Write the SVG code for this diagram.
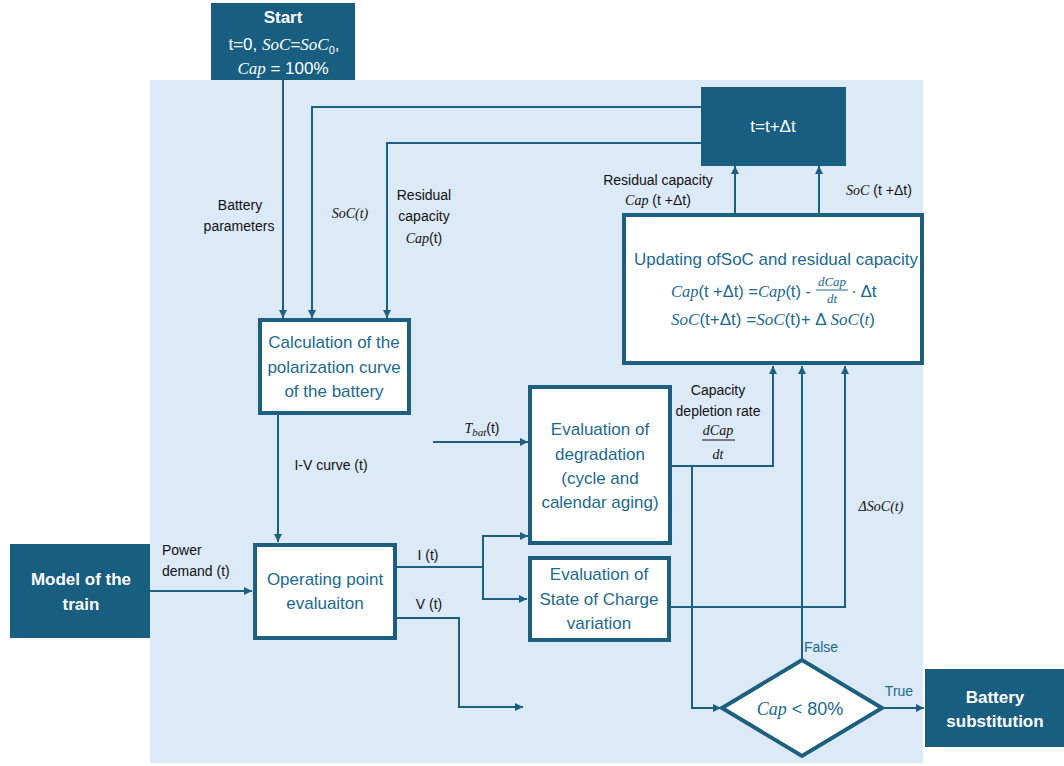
<svg xmlns="http://www.w3.org/2000/svg" width="1064" height="766" viewBox="0 0 1064 766">
<defs>
<marker id="ah" markerWidth="10" markerHeight="10" refX="9" refY="5" orient="auto" markerUnits="userSpaceOnUse">
<path d="M1,1 L9,5 L1,9 Z" fill="#1d5f80"/>
</marker>
<style>
.dark{fill:#175e80;}
.wbox{fill:#ffffff;stroke:#1d5f80;stroke-width:4;}
.wt{font-family:"Liberation Sans",Arial,sans-serif;font-weight:bold;fill:#ffffff;font-size:17px;text-anchor:middle;}
.wn{font-family:"Liberation Sans",Arial,sans-serif;fill:#ffffff;font-size:17px;text-anchor:middle;}
.bt{font-family:"Liberation Sans",Arial,sans-serif;fill:#1b6a8f;font-size:17px;text-anchor:middle;}
.lb{font-family:"Liberation Sans",Arial,sans-serif;fill:#111111;font-size:14px;text-anchor:middle;}
.st{text-anchor:start;}
.m{font-family:"Liberation Serif","Times New Roman",serif;font-style:italic;}
.sm{font-size:11px;}
.fr{font-size:13px;}
.c{fill:none;stroke:#1d5f80;stroke-width:2;}
</style>
</defs>
<rect x="150" y="80" width="773" height="683" fill="#dce9f6"/>

<g id="connectors">
<path class="c" d="M283 80 V318" marker-end="url(#ah)"/>
<path class="c" d="M701 107 H312 V318" marker-end="url(#ah)"/>
<path class="c" d="M701 143 H387 V318" marker-end="url(#ah)"/>
<path class="c" d="M735 214 V166" marker-end="url(#ah)"/>
<path class="c" d="M819 214 V166" marker-end="url(#ah)"/>
<path class="c" d="M278 414 V542" marker-end="url(#ah)"/>
<path class="c" d="M150 591 H252" marker-end="url(#ah)"/>
<path class="c" d="M433 442 H528" marker-end="url(#ah)"/>
<path class="c" d="M395 567 H483 V536 H528" marker-end="url(#ah)"/>
<path class="c" d="M483 567 V599 H527" marker-end="url(#ah)"/>
<path class="c" d="M395 618 H459 V707 H523" marker-end="url(#ah)"/>
<path class="c" d="M671 466 H773 V366" marker-end="url(#ah)"/>
<path class="c" d="M692 466 V708 H721" marker-end="url(#ah)"/>
<path class="c" d="M670 607 H845 V366" marker-end="url(#ah)"/>
<path class="c" d="M802 660 V366" marker-end="url(#ah)"/>
<path class="c" d="M882 708 H924" marker-end="url(#ah)"/>
</g>

<g id="start">
<rect class="dark" x="211" y="3" width="144" height="77"/>
<text class="wt" x="283" y="23">Start</text>
<text class="wn" x="284" y="50">t=0, <tspan class="m">SoC</tspan>=<tspan class="m">SoC</tspan><tspan class="sm" dy="4">0</tspan><tspan dy="-4">,</tspan></text>
<text class="wn" x="283" y="74"><tspan class="m">Cap</tspan> = 100%</text>
</g>

<g id="tstep">
<rect class="dark" x="701" y="87" width="145" height="79"/>
<text class="wn" x="773" y="132">t=t+Δt</text>
</g>

<g id="update">
<rect class="wbox" x="624" y="215" width="298" height="148"/>
<text class="bt" x="776" y="265" textLength="284" lengthAdjust="spacingAndGlyphs">Updating ofSoC and residual capacity</text>
<text class="bt st" x="671" y="297" textLength="140" lengthAdjust="spacingAndGlyphs"><tspan class="m">Cap</tspan>(t +Δt) =<tspan class="m">Cap</tspan>(t) -</text>
<text class="bt m fr" x="832" y="286">dCap</text>
<line x1="816" y1="290" x2="848" y2="290" stroke="#1b6a8f" stroke-width="1"/>
<text class="bt m fr" x="832" y="303">dt</text>
<text class="bt st" x="851" y="297">· Δt</text>
<text class="bt st" x="671" y="325" textLength="204" lengthAdjust="spacingAndGlyphs"><tspan class="m">SoC</tspan>(t+Δt) =<tspan class="m">SoC</tspan>(t)+ Δ <tspan class="m">SoC</tspan>(<tspan class="m">t</tspan>)</text>
</g>

<g id="calc">
<rect class="wbox" x="260" y="320" width="149" height="93"/>
<text class="bt" x="334" y="348">Calculation of the</text>
<text class="bt" x="334" y="373">polarization curve</text>
<text class="bt" x="334" y="397">of the battery</text>
</g>

<g id="train">
<rect class="dark" x="10" y="544" width="140" height="94"/>
<text class="wt" x="81" y="585">Model of the</text>
<text class="wt" x="81" y="610">train</text>
</g>

<g id="operating">
<rect class="wbox" x="255" y="545" width="140" height="93"/>
<text class="bt" x="325" y="585">Operating point</text>
<text class="bt" x="325" y="609">evaluaiton</text>
</g>

<g id="degradation">
<rect class="wbox" x="530" y="387" width="140" height="156"/>
<text class="bt" x="600" y="435">Evaluation of</text>
<text class="bt" x="600" y="460">degradation</text>
<text class="bt" x="600" y="484">(cycle and</text>
<text class="bt" x="600" y="508">calendar aging)</text>
</g>

<g id="socvar">
<rect class="wbox" x="530" y="558" width="139" height="82"/>
<text class="bt" x="599" y="580">Evaluation of</text>
<text class="bt" x="599" y="605">State of Charge</text>
<text class="bt" x="599" y="629">variation</text>
</g>

<g id="decision">
<polygon points="722,708 802,660 882,708 802,756" fill="#ffffff" stroke="#1d5f80" stroke-width="4"/>
<text class="bt" x="800" y="715" style="font-size:18px"><tspan class="m">Cap</tspan> &lt; 80%</text>
</g>

<g id="substitution">
<rect class="dark" x="925" y="669" width="139" height="78"/>
<text class="wt" x="995" y="703">Battery</text>
<text class="wt" x="995" y="727">substitution</text>
</g>

<g id="labels">
<text class="lb" x="240" y="210">Battery</text>
<text class="lb" x="239" y="231">parameters</text>
<text class="lb m" x="350" y="218">SoC(t)</text>
<text class="lb" x="424" y="200">Residual</text>
<text class="lb" x="424" y="221">capacity</text>
<text class="lb" x="424" y="243"><tspan class="m">Cap</tspan>(t)</text>
<text class="lb" x="658" y="185">Residual capacity</text>
<text class="lb" x="658" y="205"><tspan class="m">Cap</tspan> (t +Δt)</text>
<text class="lb" x="879" y="195"><tspan class="m">SoC</tspan> (t +Δt)</text>
<text class="lb" x="331" y="470">I-V curve (t)</text>
<text class="lb st" x="162" y="555">Power</text>
<text class="lb st" x="162" y="576">demand (t)</text>
<text class="lb" x="428" y="560">I (t)</text>
<text class="lb" x="429" y="609">V (t)</text>
<text class="lb" x="482" y="433"><tspan class="m">T</tspan><tspan class="m sm" dy="3">bat</tspan><tspan dy="-3">(t)</tspan></text>
<text class="lb" x="718" y="395">Capacity</text>
<text class="lb" x="718" y="416">depletion rate</text>
<text class="lb m" x="718" y="435">dCap</text>
<line x1="702" y1="440" x2="735" y2="440" stroke="#111" stroke-width="1"/>
<text class="lb m" x="718" y="459">dt</text>
<text class="lb m" x="881" y="511">ΔSoC(t)</text>
<text class="lb" x="821" y="652" style="fill:#1b6a8f">False</text>
<text class="lb" x="899" y="696" style="fill:#1b6a8f">True</text>
</g>
</svg>
